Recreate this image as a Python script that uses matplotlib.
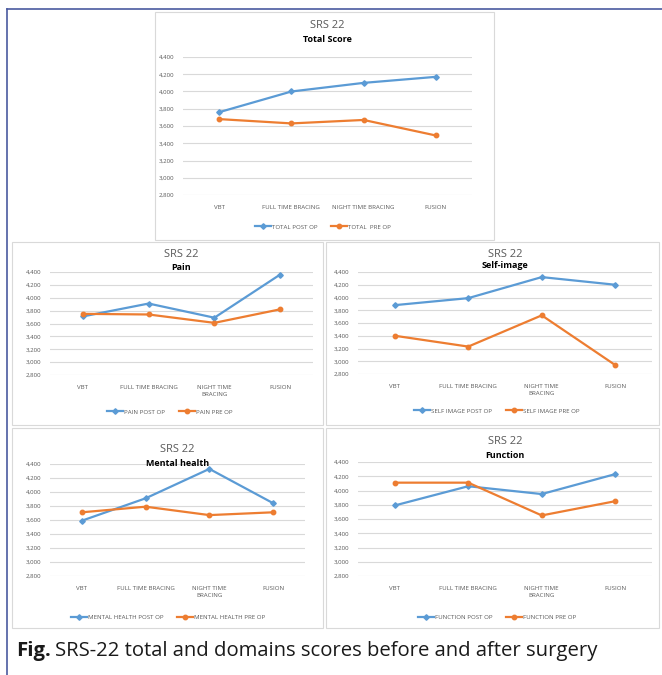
import matplotlib
matplotlib.use("Agg")
import matplotlib.pyplot as plt
import matplotlib.patches as patches
from matplotlib.lines import Line2D
from matplotlib.ticker import FuncFormatter, MultipleLocator

W, H = 662, 675

categories = ["VBT", "FULL TIME BRACING", "NIGHT TIME BRACING", "FUSION"]
categories_wrapped = ["VBT", "FULL TIME BRACING", "NIGHT TIME\nBRACING", "FUSION"]

total_post = [3.76, 4.00, 4.10, 4.17]
total_pre = [3.68, 3.63, 3.67, 3.49]
pain_post = [3.71, 3.91, 3.69, 4.36]
pain_pre = [3.75, 3.74, 3.61, 3.82]
self_post = [3.88, 3.99, 4.32, 4.20]
self_pre = [3.40, 3.23, 3.72, 2.94]
mental_post = [3.59, 3.91, 4.33, 3.84]
mental_pre = [3.71, 3.79, 3.67, 3.71]
function_post = [3.79, 4.06, 3.95, 4.23]
function_pre = [4.11, 4.11, 3.65, 3.85]

BLUE = "#5b9bd5"
ORANGE = "#ed7d31"
GRID = "#d9d9d9"
TXT = "#595959"

plt.rcParams['font.family'] = ['Open Sans', 'DejaVu Sans']

fig = plt.figure(figsize=(W / 100, H / 100), dpi=100)


def fx(x):
    return x / W


def fy(y):
    return 1 - y / H


def box(x0, y0, x1, y1):
    r = patches.Rectangle((fx(x0), fy(y1)), fx(x1 - x0), (y1 - y0) / H,
                          transform=fig.transFigure, fill=False,
                          edgecolor="#d9d9d9", linewidth=0.8)
    fig.patches.append(r)


def panel(plot, title, post, pre, labels, names, title_y, legend_y, legend_x):
    x0, y0, x1, y1 = plot
    ax = fig.add_axes([fx(x0), fy(y1), fx(x1 - x0), (y1 - y0) / H])
    xs = range(len(post))
    ax.plot(xs, [v * 1000 for v in post], color=BLUE, lw=1.6, marker="D",
            ms=2.8, zorder=3)
    ax.plot(xs, [v * 1000 for v in pre], color=ORANGE, lw=1.6, marker="o",
            ms=3.2, zorder=3)
    ax.set_xlim(-0.5, 3.5)
    ax.set_ylim(2800, 4400)
    ax.yaxis.set_major_locator(MultipleLocator(200))
    ax.yaxis.set_major_formatter(FuncFormatter(lambda v, p: "{:,.0f}".format(v)))
    ax.grid(axis="y", color=GRID, lw=0.8)
    ax.set_axisbelow(True)
    for s in ax.spines.values():
        s.set_visible(False)
    ax.set_xticks(list(xs))
    ax.set_xticklabels(labels, fontsize=4.4, color=TXT, linespacing=1.6)
    ax.tick_params(axis="both", length=0, labelsize=4.4, labelcolor=TXT)
    ax.tick_params(axis="x", pad=7)
    ax.tick_params(axis="y", pad=6)
    cx = (x0 + x1) / 2
    fig.text(fx(cx), fy(title_y[0]), "SRS 22", ha="center", va="center",
             fontsize=8, color=TXT)
    fig.text(fx(cx), fy(title_y[1]), title, ha="center", va="center",
             fontsize=6.5, color="black", fontweight="bold")
    handles = [Line2D([], [], color=BLUE, lw=1.6, marker="D", ms=2.8),
               Line2D([], [], color=ORANGE, lw=1.6, marker="o", ms=3.2)]
    fig.legend(handles, names, loc="center", ncol=2, frameon=False,
               bbox_to_anchor=(fx(legend_x), fy(legend_y)),
               fontsize=4.4, labelcolor=TXT, handlelength=2.6,
               handletextpad=0.2, columnspacing=2.2)
    return ax


# outer frame lines (top and left)
fig.add_artist(Line2D([fx(7), 1], [fy(9), fy(9)], color="#4a5aa0", lw=1.2,
                      transform=fig.transFigure))
fig.add_artist(Line2D([fx(7), fx(7)], [fy(9), 0], color="#4a5aa0", lw=1.2,
                      transform=fig.transFigure))

# chart boxes
box(155, 12, 494, 240)
box(12, 242, 323, 425)
box(326, 242, 659, 425)
box(12, 428, 323, 628)
box(326, 428, 659, 628)

panel((183, 57, 472, 195), "Total Score", total_post, total_pre, categories,
      ["TOTAL POST OP", "TOTAL  PRE OP"], (25, 40), 227, 323)
panel((50, 272, 313, 375), "Pain", pain_post, pain_pre, categories_wrapped,
      ["PAIN POST OP", "PAIN PRE OP"], (254, 267), 412, 170)
panel((358, 272, 652, 374), "Self-image", self_post, self_pre,
      categories_wrapped, ["SELF IMAGE POST OP", "SELF IMAGE PRE OP"],
      (254, 266), 411, 497)
panel((50, 464, 305, 576), "Mental health", mental_post, mental_pre,
      categories_wrapped, ["MENTAL HEALTH POST OP", "MENTAL HEALTH PRE OP"],
      (450, 463), 617, 168)
panel((358, 462, 652, 576), "Function", function_post, function_pre,
      categories_wrapped, ["FUNCTION POST OP", "FUNCTION PRE OP"],
      (442, 455), 617, 497)

# caption
t = fig.text(fx(16), fy(651), "Fig.", ha="left", va="center", fontsize=14.6,
             fontweight="bold", color="#1a1a1a")
fig.canvas.draw()
bb = t.get_window_extent()
fig.text(bb.x1 / W + fx(4), fy(651),
         "SRS-22 total and domains scores before and after surgery",
         ha="left", va="center", fontsize=14.6, color="#1a1a1a")

fig.savefig("out.png", dpi=100, facecolor="white")
